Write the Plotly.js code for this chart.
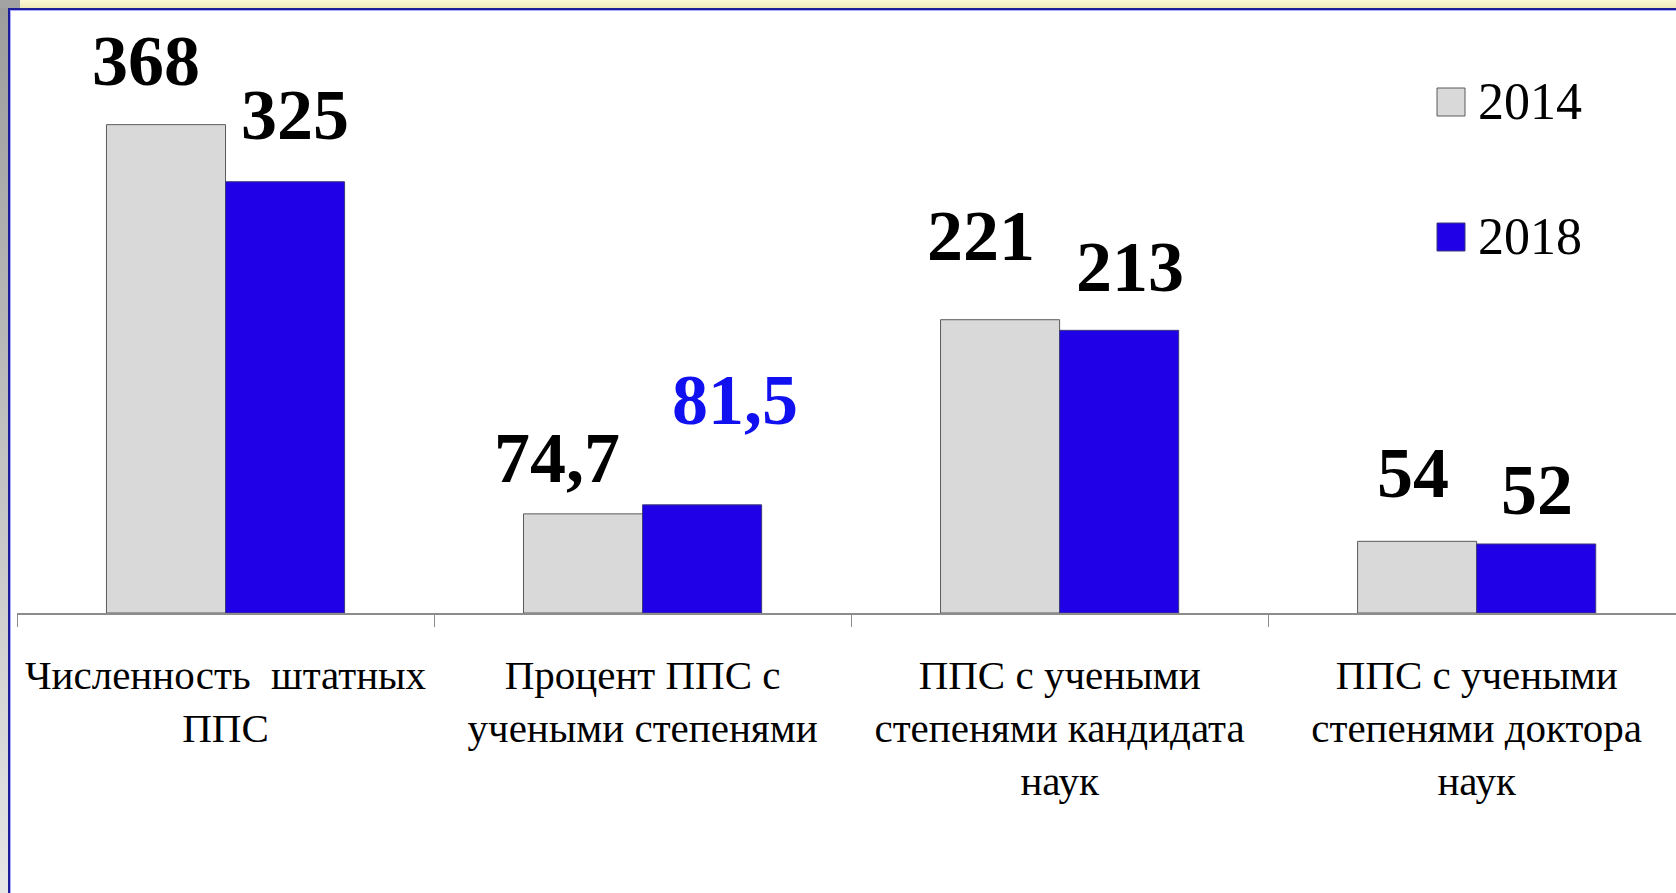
<!DOCTYPE html>
<html>
<head>
<meta charset="utf-8">
<script src="https://cdn.plot.ly/plotly-3.0.1.min.js"></script>
<style>
html,body{margin:0;padding:0;width:1676px;height:893px;overflow:hidden;background:#fff}
#strip-left{position:absolute;left:0;top:0;width:8px;height:893px;background:linear-gradient(#9c9c9c,#e6e6e6)}
#strip-top{position:absolute;left:20px;top:0;width:1656px;height:8px;background:linear-gradient(#fbf8d6,#efe9b8)}
#corner{position:absolute;left:0;top:0;width:20px;height:8px;background:#a3a3a3}
#frame{position:absolute;left:8px;top:8px;width:1700px;height:900px;border-left:2px solid #1d1d9a;border-top:2px solid #1d1d9a;box-shadow:inset 1px 1px 0 #a8a8ff}
#chart{position:absolute;left:0;top:0;width:1676px;height:893px}
</style>
</head>
<body>
<div id="strip-left"></div>
<div id="corner"></div>
<div id="strip-top"></div>
<div id="frame"></div>
<div id="chart"></div>
<script>
// ---- data ----
const categories = [
  'Численность  штатных<br>ППС',
  'Процент ППС с<br>учеными степенями',
  'ППС с учеными<br>степенями кандидата<br>наук',
  'ППС с учеными<br>степенями доктора<br>наук'
];
const years = ['2014', '2018'];
const values2014 = [368, 74.7, 221, 54];
const values2018 = [325, 81.5, 213, 52];

// ---- styles ----
const color2014 = '#d9d9d9', edge2014 = '#5a5a5a';
const color2018 = '#2000e6', edge2018 = '#3b3b7a';
const nudgeX2014 = [-20, -26, -19, -4];
const nudgeY2014 = [22, 14, 42, 26];
const nudgeX2018 = [10, 33, 11, 1];
const nudgeY2018 = [25, 63, 21, 12];
const labelColor2018 = ['#000', '#1010f0', '#000', '#000'];

const serif = 'Liberation Serif, "Times New Roman", serif';
const fmt = v => String(v).replace('.', ',');
const idx = categories.map((c, i) => i);

const BARGAP = 0.429;
const half = (1 - BARGAP) / 4;

const traces = [
  {type: 'bar', name: years[0], x: categories, y: values2014,
   marker: {color: color2014, line: {color: edge2014, width: 1}}, hoverinfo: 'skip'},
  {type: 'bar', name: years[1], x: categories, y: values2018,
   marker: {color: color2018, line: {color: edge2018, width: 1}}, hoverinfo: 'skip'}
];

const annotations = [];
idx.forEach(i => {
  annotations.push({x: i - half, y: values2014[i], xref: 'x', yref: 'y', text: fmt(values2014[i]),
    showarrow: false, yanchor: 'bottom', xanchor: 'center', xshift: nudgeX2014[i], yshift: nudgeY2014[i],
    font: {family: serif, size: 72, color: '#000', weight: 'bold'}});
  annotations.push({x: i + half, y: values2018[i], xref: 'x', yref: 'y', text: fmt(values2018[i]),
    showarrow: false, yanchor: 'bottom', xanchor: 'center', xshift: nudgeX2018[i], yshift: nudgeY2018[i],
    font: {family: serif, size: 72, color: labelColor2018[i], weight: 'bold'}});
});

// ---- legend (drawn by hand so its keys match the slide) ----
const L = 17, T = 10, W = 1659, H = 603;
const px = x => (x - L) / W;
const py = y => (T + H - y) / H;
const legendRows = [{name: years[0], fill: color2014, edge: edge2014, cy: 102},
                    {name: years[1], fill: color2018, edge: edge2018, cy: 237}];
const shapes = [];
legendRows.forEach(r => {
  shapes.push({type: 'rect', xref: 'paper', yref: 'paper', x0: px(1437), x1: px(1465),
    y0: py(r.cy + 14), y1: py(r.cy - 14), fillcolor: r.fill, line: {color: r.edge, width: 1}});
  annotations.push({xref: 'paper', yref: 'paper', x: px(1476), y: py(r.cy), text: r.name,
    showarrow: false, xanchor: 'left', yanchor: 'middle',
    font: {family: serif, size: 52, color: '#000'}});
});

const layout = {
  width: 1676, height: 893,
  margin: {l: L, r: 0, t: T, b: 893 - T - H, pad: 0},
  paper_bgcolor: 'rgba(0,0,0,0)',
  plot_bgcolor: 'rgba(0,0,0,0)',
  font: {family: serif, color: '#000'},
  barmode: 'group', bargap: BARGAP, bargroupgap: 0,
  showlegend: false,
  xaxis: {type: 'category', range: [-0.5, 3.478], fixedrange: true, automargin: false,
    showline: true, linecolor: '#8c8c8c', linewidth: 1.5,
    ticks: 'outside', tickson: 'boundaries', ticklen: 12, tickcolor: '#8c8c8c', tickwidth: 1,
    tickangle: 0, ticklabelstandoff: 25,
    tickfont: {family: serif, size: 41, color: '#000'}, showgrid: false, zeroline: false},
  yaxis: {range: [0, 454.4], visible: false, fixedrange: true, showgrid: false, zeroline: false},
  shapes: shapes,
  annotations: annotations
};

Plotly.newPlot('chart', traces, layout, {displayModeBar: false, staticPlot: true});
</script>
</body>
</html>
